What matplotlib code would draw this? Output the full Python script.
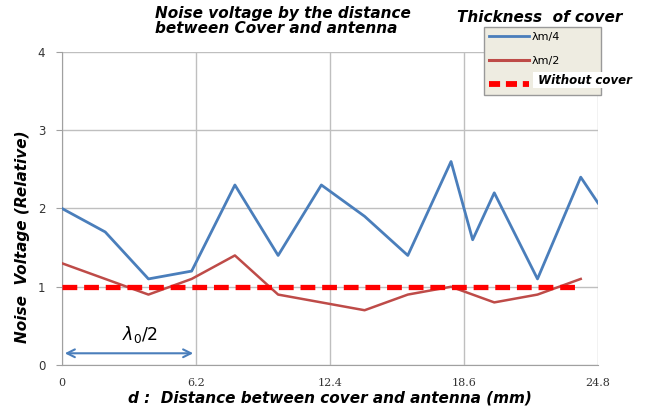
import matplotlib
matplotlib.use("Agg")
import matplotlib.pyplot as plt
from matplotlib.lines import Line2D

# Data
x_blue = [0, 2, 4, 6, 8, 10, 12, 14, 16, 18, 19, 20, 22, 24, 24.8]
y_blue = [2.0, 1.7, 1.1, 1.2, 2.3, 1.4, 2.3, 1.9, 1.4, 2.6, 1.6, 2.2, 1.1, 2.4, 2.07]
x_red = [0, 2, 4, 6, 8, 10, 12, 14, 16, 18, 20, 22, 24]
y_red = [1.3, 1.1, 0.9, 1.1, 1.4, 0.9, 0.8, 0.7, 0.9, 1.0, 0.8, 0.9, 1.1]
x_nocover = [0, 24]
y_nocover = [1.0, 1.0]
xticks = [0, 6.2, 12.4, 18.6, 24.8]
xtick_labels = ["0", "6.2", "12.4", "18.6", "24.8"]
yticks = [0, 1, 2, 3, 4]
series_labels = ["λm/4", "λm/2", "Without cover"]

fig = plt.figure(figsize=(6.47, 4.12), dpi=100)
ax = fig.add_axes([0.0958, 0.114, 0.8285, 0.760])

blue = "#4A7EBB"
red = "#BE4B48"
ax.plot(x_blue, y_blue, color=blue, lw=2.0, zorder=3)
ax.plot(x_red, y_red, color=red, lw=1.8, zorder=3)
ax.plot(x_nocover, y_nocover, color="#FF0000", lw=3.8, dashes=(2.8, 1.3), zorder=4)

ax.set_xlim(0, 24.8)
ax.set_ylim(0, 4)
ax.set_xticks(xticks)
ax.set_xticklabels(xtick_labels, fontfamily="DejaVu Serif", fontsize=8, color="#333333")
ax.set_yticks(yticks)
ax.set_yticklabels([str(v) for v in yticks], fontsize=8.5, color="#333333")
ax.grid(True, color="#BFBFBF", lw=1.0)
ax.set_axisbelow(True)
for s in ["top", "right"]:
    ax.spines[s].set_visible(False)
ax.spines["left"].set_color("#A0A0A0")
ax.spines["bottom"].set_color("#A0A0A0")
ax.tick_params(axis="y", length=4, color="#A0A0A0", pad=8)
ax.tick_params(axis="x", length=0, pad=9)

# arrow for lambda0/2
ax.annotate("", xy=(0, 0.15), xytext=(6.2, 0.15),
            arrowprops=dict(arrowstyle="<->", color=blue, lw=1.5, mutation_scale=14))
ax.text(3.6, 0.25, r"$\lambda_0/2$", ha="center", va="bottom", fontsize=12.5,
        fontfamily="DejaVu Serif")

ax.set_xlabel("d :  Distance between cover and antenna (mm)", fontsize=11,
              fontweight="bold", fontstyle="italic", labelpad=2)
ax.set_ylabel("Noise  Voltage (Relative)", fontsize=11, fontweight="bold",
              fontstyle="italic")
ax.yaxis.set_label_coords(-0.06, 0.41)

fig.text(0.24, 0.985, "Noise voltage by the distance\nbetween Cover and antenna",
         ha="left", va="top", fontsize=11, fontweight="bold", fontstyle="italic",
         linespacing=1.0)
fig.text(0.706, 0.975, "Thickness  of cover", ha="left", va="top", fontsize=11,
         fontweight="bold", fontstyle="italic")

handles = [Line2D([], [], color=blue, lw=2),
           Line2D([], [], color=red, lw=2.2),
           Line2D([], [], color="#FF0000", lw=4.2, dashes=(1.9, 1.0))]
leg = fig.legend(handles, [series_labels[0], series_labels[1], ""], loc="upper left",
                 bbox_to_anchor=(0.748, 0.835, 0.181, 0.1), mode="expand",
                 frameon=True, fancybox=False,
                 fontsize=8, handlelength=3.6, borderpad=0.45, labelspacing=1.25,
                 handletextpad=0.2, borderaxespad=0)
leg.get_frame().set_facecolor("#EEECE1")
leg.get_frame().set_edgecolor("#999999")
leg.get_frame().set_alpha(1)
fig.text(0.826, 0.805, " " + series_labels[2] + " ", ha="left", va="center",
         fontsize=8.5, fontweight="bold", fontstyle="italic",
         bbox=dict(facecolor="white", edgecolor="none", pad=1.0), zorder=10)

fig.savefig("out.png", dpi=100)
